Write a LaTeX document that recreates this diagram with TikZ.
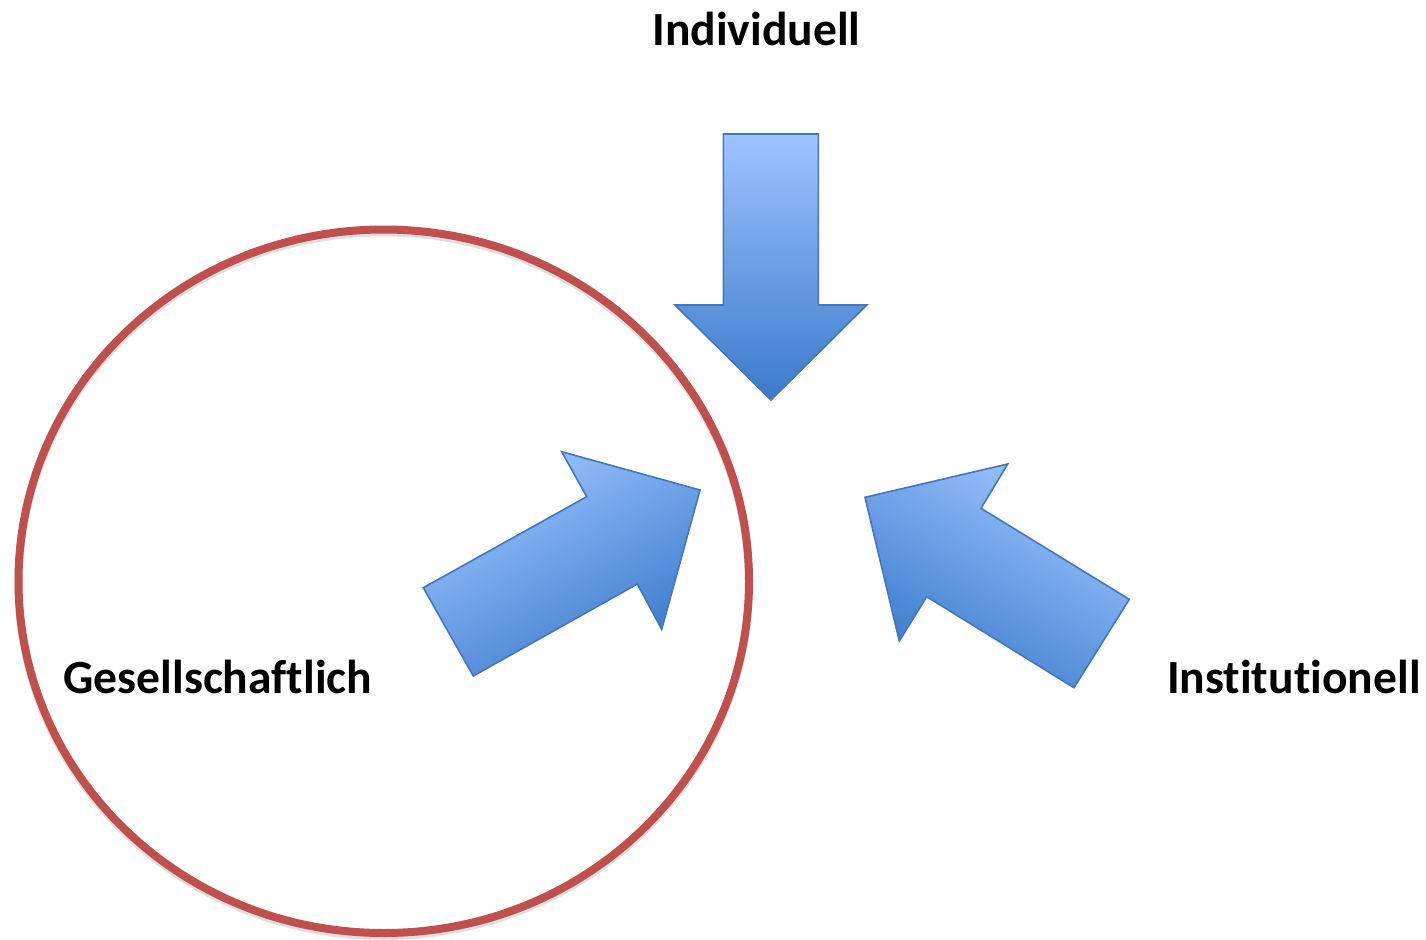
\documentclass[tikz,border=0pt]{standalone}
\usepackage{fontspec}
\setmainfont{Carlito}[Ligatures=NoCommon]
\definecolor{arlight}{RGB}{157,196,255}
\definecolor{ardark}{RGB}{58,122,204}
\definecolor{arline}{RGB}{70,118,186}
\definecolor{ringred}{RGB}{192,80,77}
\begin{document}
\begin{tikzpicture}[x=0.5pt,y=-0.5pt,
  bigarrow/.style={draw=arline,line width=0.8pt,line join=miter,top color=arlight,bottom color=ardark},
  lbl/.style={font=\fontsize{23.8}{28}\selectfont\bfseries,inner sep=0pt,text=black},
  ring/.style={draw=ringred,line width=4pt}]
\useasboundingbox (0,0) rectangle (1426,939);
\fill[white] (0,0) rectangle (1426,939);
% circle (Gesellschaftlich)
\draw[gray!25,line width=4pt] (383.75,584.25) ellipse [x radius=365.25, y radius=351.75];
\draw[ring] (383.75,581.25) ellipse [x radius=365.25, y radius=351.75];
% down arrow (Individuell)
\draw[bigarrow] (723.3,134) -- (818.3,134) -- (818.3,305) -- (866.7,305) -- (771,400) -- (675,305) -- (723.3,305) -- cycle;
% arrow inside circle
\draw[bigarrow,shading angle=30] (423.3,587.7) -- (586.7,496.7) -- (561.7,451.7) -- (700,490) -- (661.7,629.3) -- (637.3,584) -- (473.3,676) -- cycle;
% right arrow (Institutionell)
\draw[bigarrow,shading angle=-30] (1129.3,599.3) -- (981,508.3) -- (1007.7,464) -- (865,497.3) -- (899.3,641) -- (926.7,596.7) -- (1074,687.7) -- cycle;
% labels
\node[lbl,anchor=base] (ind) at (756.5,45) {Individuell};
\node[lbl,anchor=base west] (ges) at (63,693) {Gesellschaftlich};
\node[lbl,anchor=base east] (ins) at (1421,693) {Institutionell};
\end{tikzpicture}
\end{document}
